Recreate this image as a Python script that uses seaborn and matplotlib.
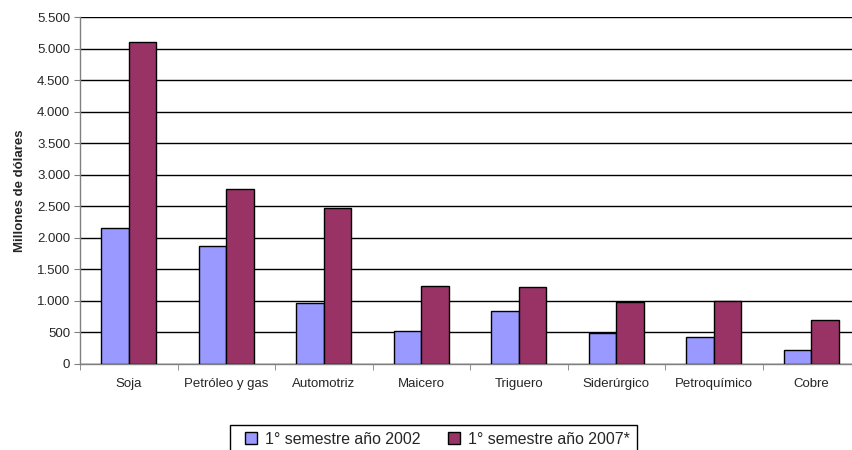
import numpy as np
import pandas as pd
import seaborn as sns
import matplotlib.pyplot as plt
from matplotlib.ticker import FuncFormatter, MultipleLocator, FixedLocator
from matplotlib.patches import Patch, Rectangle

sectores = ["Soja", "Petróleo y gas", "Automotriz", "Maicero", "Triguero",
            "Siderúrgico", "Petroquímico", "Cobre"]
valores_2002 = [2160, 1870, 960, 530, 840, 490, 430, 220]
valores_2007 = [5100, 2780, 2480, 1240, 1220, 980, 1000, 690]
series = ["1° semestre año 2002", "1° semestre año 2007*"]
colores = ["#9999FF", "#993366"]

df = pd.DataFrame({
    "sector": sectores * 2,
    "serie": [series[0]] * len(sectores) + [series[1]] * len(sectores),
    "valor": valores_2002 + valores_2007,
})

sns.set_style("white")
plt.rcParams["font.family"] = ["Liberation Sans", "DejaVu Sans"]

fig = plt.figure(figsize=(8.53, 4.5), dpi=100)
ax = fig.add_axes([80 / 853, 1 - 364 / 450, 780 / 853, 347 / 450])

sns.barplot(data=df, x="sector", y="valor", hue="serie", palette=colores,
            saturation=1, width=0.56, edgecolor="black", linewidth=1, ax=ax,
            legend=False, zorder=3)

ax.set_xlim(-0.5, len(sectores) - 0.5)
ax.set_ylim(0, 5500)
ax.yaxis.set_major_locator(MultipleLocator(500))
ax.yaxis.set_major_formatter(FuncFormatter(lambda v, p: f"{int(v):,}".replace(",", ".")))
ax.grid(axis="y", color="black", linewidth=1, zorder=0)
ax.set_axisbelow(True)

for s in ["top", "right"]:
    ax.spines[s].set_visible(False)
for s in ["left", "bottom"]:
    ax.spines[s].set_color("#808080")
    ax.spines[s].set_linewidth(1)

ax.tick_params(axis="y", which="major", length=4, color="#808080", labelsize=9.5, pad=3)
ax.tick_params(axis="x", which="major", length=0, labelsize=9.5, pad=10)
ax.xaxis.set_minor_locator(FixedLocator(np.arange(-0.5, len(sectores), 1.0)))
ax.tick_params(axis="x", which="minor", length=4, color="#808080", direction="out")
ax.tick_params(axis="both", which="both", bottom=True, left=True)

ax.set_xlabel("")
ax.set_ylabel("Millones de dólares", fontsize=9.5, fontweight="bold", labelpad=8)

# legend box, open at the bottom edge like the original
fig.patches.append(Rectangle((230 / 853, -0.05), 407 / 853, 0.05 + 25 / 450,
                             transform=fig.transFigure, fill=False,
                             edgecolor="black", linewidth=1))
handles = [Patch(facecolor=c, edgecolor="black", linewidth=1) for c in colores]
leg = fig.legend(handles, series, loc="center", bbox_to_anchor=(437.5 / 853, 1 - 439 / 450),
                 ncol=2, frameon=False, fontsize=11.4, handlelength=0.8,
                 handleheight=0.8, handletextpad=0.5, columnspacing=1.7,
                 borderpad=0.0)

fig.savefig("out.png", dpi=100)
